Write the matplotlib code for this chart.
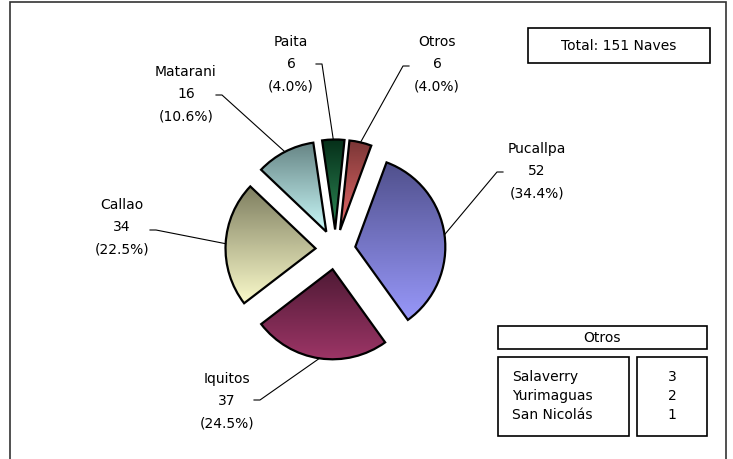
import numpy as np
import matplotlib
matplotlib.use("Agg")
import matplotlib.pyplot as plt
from matplotlib.patches import Rectangle
from matplotlib.colors import to_rgb

# data
puertos = ["Otros", "Pucallpa", "Iquitos", "Callao", "Matarani", "Paita"]
naves = [6, 52, 37, 34, 16, 6]
otros_puertos = ["Salaverry", "Yurimaguas", "San Nicolás"]
otros_naves = [3, 2, 1]

# gradient colors per slice (top dark -> bottom light)
top_colors = ["#7a3636", "#50508c", "#4f1a35", "#7e7e60", "#668484", "#06301a"]
bottom_colors = ["#e86a6a", "#9898fa", "#9c3566", "#fafaca", "#cafafa", "#2e8b57"]

W, H = 733, 459
fig = plt.figure(figsize=(W / 100, H / 100), dpi=100)
ax = fig.add_axes([0, 0, 1, 1])

# pie in pixel units (explode is absolute in data units)
cx, cy, R = 335.5, H - 249.5, 90
wedges, _ = ax.pie(naves, explode=[20] * len(naves), startangle=84,
                   counterclock=False, radius=R, center=(cx, cy), frame=True,
                   wedgeprops=dict(edgecolor="black", linewidth=1.6))

# vertical gradient fill inside each wedge
for w, c0, c1 in zip(wedges, top_colors, bottom_colors):
    ext = w.get_path().get_extents()
    t = np.linspace(0, 1, 200)[:, None]
    a, b = np.array(to_rgb(c1)), np.array(to_rgb(c0))
    img = (a + (b - a) * t)[:, None, :]
    im = ax.imshow(img, extent=[ext.x0, ext.x1, ext.y0, ext.y1], origin="lower",
                   aspect="auto", zorder=1, interpolation="bilinear")
    im.set_clip_path(w)
    w.set_facecolor("none")
    w.set_zorder(2)
ax.set_xlim(0, W)
ax.set_ylim(0, H)
ax.set_aspect("equal")
ax.axis("off")

# labels: text centre, leader elbow, end of short tick next to text (pixels)
total = sum(naves)
label_pos = {
    "Otros": (437, 64, 403, 66, 409),
    "Pucallpa": (537, 171, 497, 172, 503),
    "Iquitos": (227, 401, 260, 400, 254),
    "Callao": (122, 227, 156, 230, 150),
    "Matarani": (186, 94, 222, 95, 216),
    "Paita": (291, 64, 322, 64, 316),
}
for w, name, n in zip(wedges, puertos, naves):
    tx, ty, ex, ey, hx = label_pos[name]
    ang = np.deg2rad((w.theta1 + w.theta2) / 2)
    wx, wy = w.center
    px, py = wx + R * np.cos(ang), wy + R * np.sin(ang)
    ax.plot([px, ex, hx], [py, H - ey, H - ey], color="black", lw=0.8, zorder=3)
    ax.text(tx, H - ty, f"{name}\n{n}\n({n / total * 100:.1f}%)", ha="center",
            va="center", fontsize=10, linespacing=1.75, zorder=4)

# outer frame
ax.add_patch(Rectangle((10, -5), 716, H - 2 + 5, fill=False, lw=1.2,
                       edgecolor="#333333", zorder=0))

# total box
ax.add_patch(Rectangle((528, H - 63), 182, 35, fill=False, lw=1.2, zorder=3))
ax.text(619, H - 46, f"Total: {total} Naves", ha="center", va="center", fontsize=10)

# "Otros" breakdown boxes
ax.add_patch(Rectangle((498, H - 349), 209, 23, fill=False, lw=1.2, zorder=3))
ax.text(602, H - 338, "Otros", ha="center", va="center", fontsize=10)
ax.add_patch(Rectangle((498, H - 436), 131, 79, fill=False, lw=1.2, zorder=3))
ax.add_patch(Rectangle((637, H - 436), 70, 79, fill=False, lw=1.2, zorder=3))
for i, (p, v) in enumerate(zip(otros_puertos, otros_naves)):
    y = H - (377 + 19 * i)
    ax.text(512, y, p, ha="left", va="center", fontsize=10)
    ax.text(672, y, str(v), ha="center", va="center", fontsize=10)

fig.savefig("out.png", dpi=100)
